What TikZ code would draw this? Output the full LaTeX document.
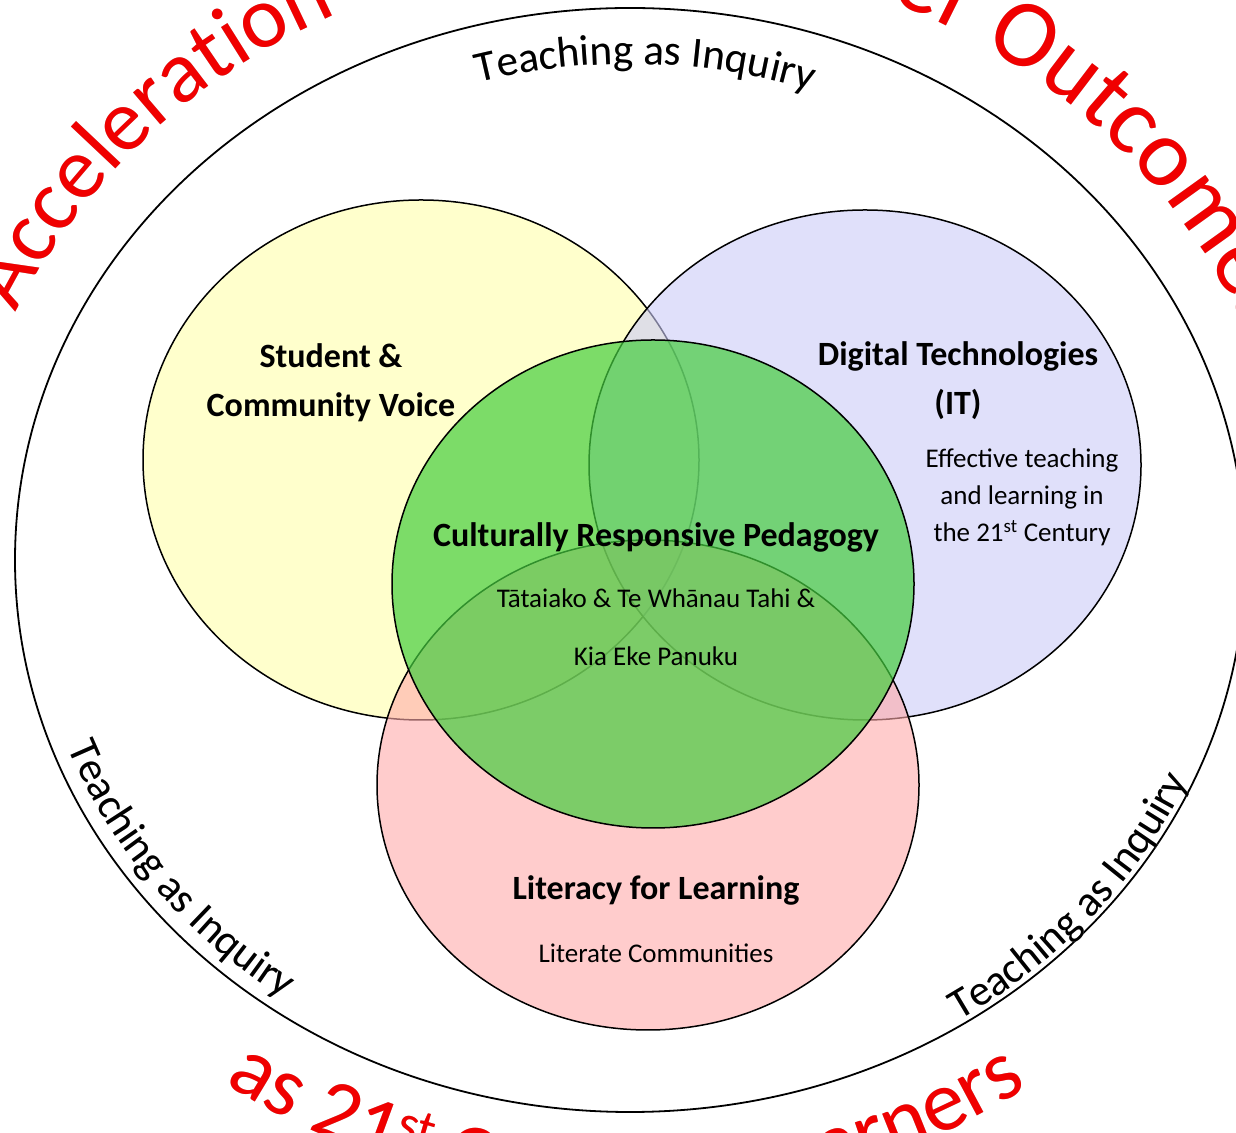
\documentclass[tikz,border=0pt]{standalone}
\usepackage{fontspec}
\setmainfont{Carlito}
\usetikzlibrary{shapes.geometric, decorations.text}

\definecolor{vennyellow}{RGB}{255,255,170}
\definecolor{vennblue}{RGB}{203,203,247}
\definecolor{vennpink}{RGB}{255,170,170}
\definecolor{venngreen}{RGB}{69,205,63}
\definecolor{goalred}{RGB}{240,0,0}

\tikzstyle{venn} = [ellipse, draw=black, line width=1.5, inner sep=0pt, fill opacity=0.6]
\tikzstyle{head} = [font=\fontsize{34}{49}\selectfont\bfseries, align=center]
\tikzstyle{sub} = [font=\fontsize{27}{37}\selectfont, align=center]
\tikzset{
  inquiry/.style={decorate, decoration={text along path, text align=center,
      text={|\fontsize{43}{43}\selectfont\color{#1}|Teaching as Inquiry}}},
  goal/.style n args={4}{decorate, decoration={text along path, text align=#1,
      text={|\fontsize{#2}{#2}\selectfont\color{#3}|#4}}},
  goalsup/.style={decorate, decoration={text along path, raise=24,
      text={|\fontsize{52}{52}\selectfont\color{#1}|st}}}
}

\begin{document}
\begin{tikzpicture}[x=1pt, y=1pt]
\useasboundingbox (0,0) rectangle (1236,1132);
\clip (0,0) rectangle (1236,1132);
\coordinate (O) at (630,572);
\draw[line width=1.8] (O) ellipse [x radius=615, y radius=552];

\node (voice) [venn, fill=vennyellow, minimum width=556, minimum height=520] at (421,672) {};
\node (digital) [venn, fill=vennblue, minimum width=552, minimum height=510] at (865,667) {};
\node (literacy) [venn, fill=vennpink, minimum width=542, minimum height=490] at (648,347) {};
\node (culture) [venn, fill=venngreen, fill opacity=0.7, minimum width=522, minimum height=488] at (653,548) {};

\node (voicet) [head] at (331,749) {Student \&\\Community Voice};
\node (digitalt) [head] at (958,751) {Digital Technologies\\(IT)};
\node (digitals) [sub] at (1022,635) {Effective teaching\\and learning in\\the 21\textsuperscript{st} Century};
\node (culturet) [head] at (656,595) {Culturally Responsive Pedagogy};
\node (cultures) [sub, font=\fontsize{27}{58}\selectfont] at (656,505) {Tātaiako \& Te Whānau Tahi \&\\Kia Eke Panuku};
\node (literacyt) [head] at (656,242) {Literacy for Learning};
\node (literacys) [sub] at (656,179) {Literate Communities};

\foreach \dx/\dy/\col in {2.5/-2.5/black!35, 0/0/black} {
  \begin{scope}[shift={(\dx,\dy)}]
    \path[inquiry=\col] ([shift={(118.4:559 and 496)}]O) arc [start angle=118.4, end angle=58.4, x radius=559, y radius=496];
    \path[inquiry=\col] ([shift={(192.3:600 and 537)}]O) arc [start angle=192.3, end angle=242.3, x radius=600, y radius=537];
    \path[inquiry=\col] ([shift={(294.7:610 and 547)}]O) arc [start angle=294.7, end angle=344.7, x radius=610, y radius=547];
  \end{scope}
}

\foreach \dx/\dy/\col in {3/-3/black!30, 0/0/goalred} {
  \begin{scope}[shift={(\dx,\dy)}]
    \path[goal={left}{88}{\col}{Acceleration of}] ([shift={(156:672 and 607)}]O) arc [start angle=156, end angle=90, x radius=672, y radius=607];
    \path[goal={right}{96}{\col}{Learner Outcomes}] ([shift={(95:665 and 607)}]O) arc [start angle=95, end angle=21.8, x radius=665, y radius=607];
    \path[goal={left}{86}{\col}{as 21}] ([shift={(234.8:703 and 640)}]O) arc [start angle=234.8, end angle=252, x radius=703, y radius=640];
    \path[goalsup=\col] ([shift={(249.8:703 and 640)}]O) arc [start angle=249.8, end angle=256, x radius=703, y radius=640];
    \path[goal={left}{86}{\col}{Century}] ([shift={(254.5:703 and 640)}]O) arc [start angle=254.5, end angle=292, x radius=703, y radius=640];
    \path[goal={right}{86}{\col}{Learners}] ([shift={(272:703 and 640)}]O) arc [start angle=272, end angle=304.5, x radius=703, y radius=640];
  \end{scope}
}
\end{tikzpicture}
\end{document}
